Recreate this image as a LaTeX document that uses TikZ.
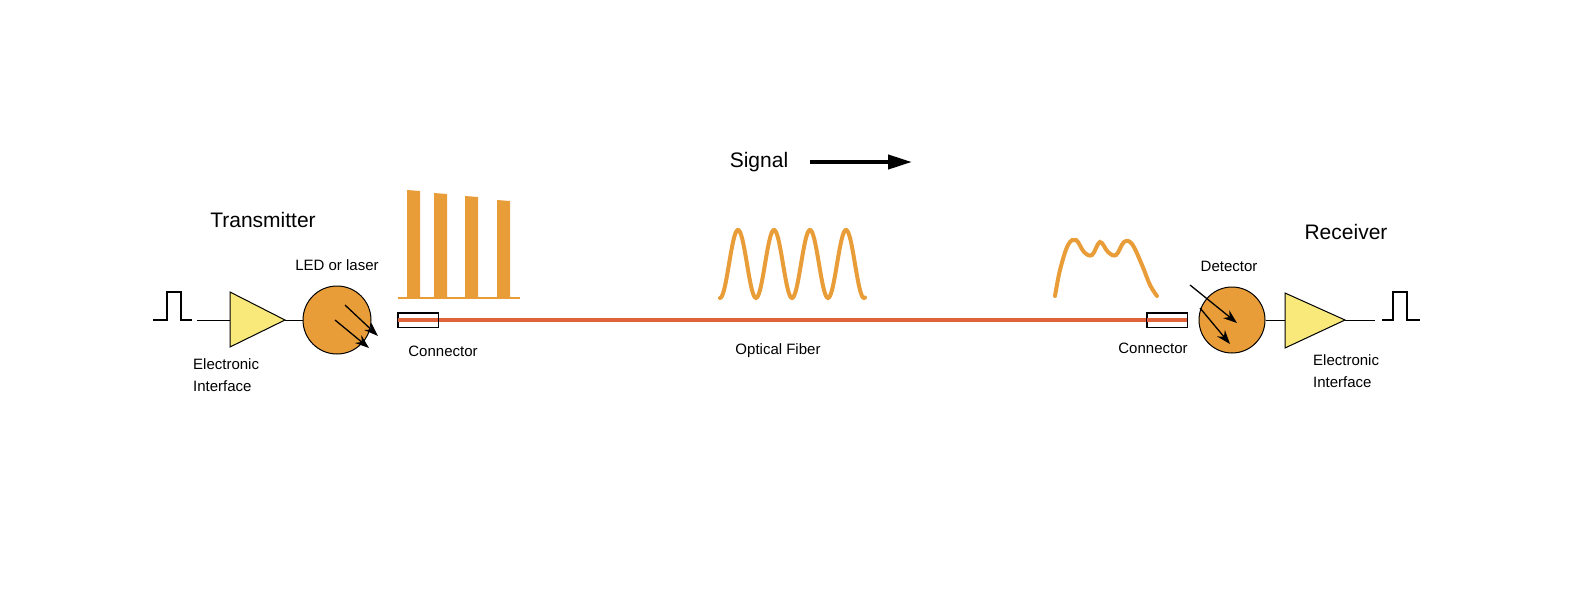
\documentclass[tikz,border=0pt]{standalone}
\usepackage{fontspec}
\setmainfont{Liberation Sans}
\usetikzlibrary{arrows.meta}
\definecolor{amber}{HTML}{E89D38}
\definecolor{fiberred}{HTML}{E0623A}
\definecolor{ampyellow}{HTML}{F8E97A}
\tikzset{
  lbl/.style={font=\fontsize{15}{18}\selectfont, inner sep=0pt},
  biglbl/.style={font=\fontsize{21}{25}\selectfont, inner sep=0pt},
  wave/.style={amber, line width=4pt, line cap=round},
  photon/.style={-{Stealth[length=14pt,width=10pt]}, line width=1.3pt},
  amp/.style={draw, line width=1pt, fill=ampyellow},
}
\begin{document}
\begin{tikzpicture}[x=1pt, y=-1pt]
\useasboundingbox (0,0) rectangle (1584,600);

% Transmitter side.
\draw[line width=1.3pt] (153,320) -- (167,320) -- (167,292) -- (181,292) -- (181,320) -- (192,320);
\draw[amp] (230,292) -- (285,320) -- (230,347) -- cycle;
\coordinate (ampLin) at (197,320);
\coordinate (ampLout) at (285,320);
\draw[line width=1pt] (ampLin) -- (230,320);
\node[circle, draw, line width=1pt, fill=amber, minimum size=68pt] (led) at (337,320) {};
\draw[line width=1pt] (ampLout) -- (led.west);
\draw[photon] (345,305) -- (378,336);
\draw[photon] (335,320) -- (369,348);

% Fiber and connectors.
\node[draw, line width=1pt, minimum width=40pt, minimum height=14pt, inner sep=0pt] (conL) at (418,320) {};
\node[draw, line width=1pt, minimum width=40pt, minimum height=14pt, inner sep=0pt] (conR) at (1167,320) {};
\draw[fiberred, line width=4pt] (conL.west) -- (conR.east);
\draw[line width=1pt] (conL.north west) rectangle (conL.south east);
\draw[line width=1pt] (conR.north west) rectangle (conR.south east);

% Pulses at the source.
\draw[amber, line width=2pt] (398,298) -- (520,298);
\foreach \x/\top in {407/190, 434/193, 465/196, 497/200}{
  \fill[amber] (\x,298) -- (\x,\top) -- (\x+13,\top+1) -- (\x+13,298) -- cycle;
}

% Dispersed signal.
\draw[wave, domain=720:865, samples=150, smooth] plot (\x, {264+34*cos(10*(\x-720))});
\draw[wave] plot[smooth, tension=0.6] coordinates {(1055,296) (1060,270) (1068,245) (1076,240) (1084,252) (1092,255) (1100,242) (1108,252) (1116,255) (1124,242) (1132,244) (1142,265) (1150,285) (1157,296)};

% Receiver side.
\node[circle, draw, line width=1pt, fill=amber, minimum size=66pt] (det) at (1232,320) {};
\draw[photon] (1190,285) -- (1237,323);
\draw[photon] (1200,308) -- (1230,344);
\draw[amp] (1285,293) -- (1345,320) -- (1285,348) -- cycle;
\draw[line width=1pt] (det.east) -- (1285,320);
\draw[line width=1pt] (1345,320) -- (1375,320);
\draw[line width=1.3pt] (1382,320) -- (1393,320) -- (1393,292) -- (1407,292) -- (1407,320) -- (1420,320);

% Signal direction.
\node[biglbl] (sig) at (759,162) {Signal};
\draw[-{Triangle[length=24pt,width=14pt]}, line width=4pt] (810,162) -- (912,162);

% Labels.
\node[biglbl] (tx) at (263,220) {Transmitter};
\node[biglbl] (rx) at (1346,232) {Receiver};
\node[lbl] (ledl) at (337,265) {LED or laser};
\node[lbl] (detl) at (1229,266) {Detector};
\node[lbl] (conLl) at (443,351) {Connector};
\node[lbl] (conRl) at (1153,348) {Connector};
\node[lbl] (fibl) at (778,351) {Optical Fiber};
\node[lbl, anchor=west, align=left] (eiL) at (193,375) {Electronic\\[4pt]Interface};
\node[lbl, anchor=west, align=left] (eiR) at (1313,371) {Electronic\\[4pt]Interface};
\end{tikzpicture}
\end{document}
